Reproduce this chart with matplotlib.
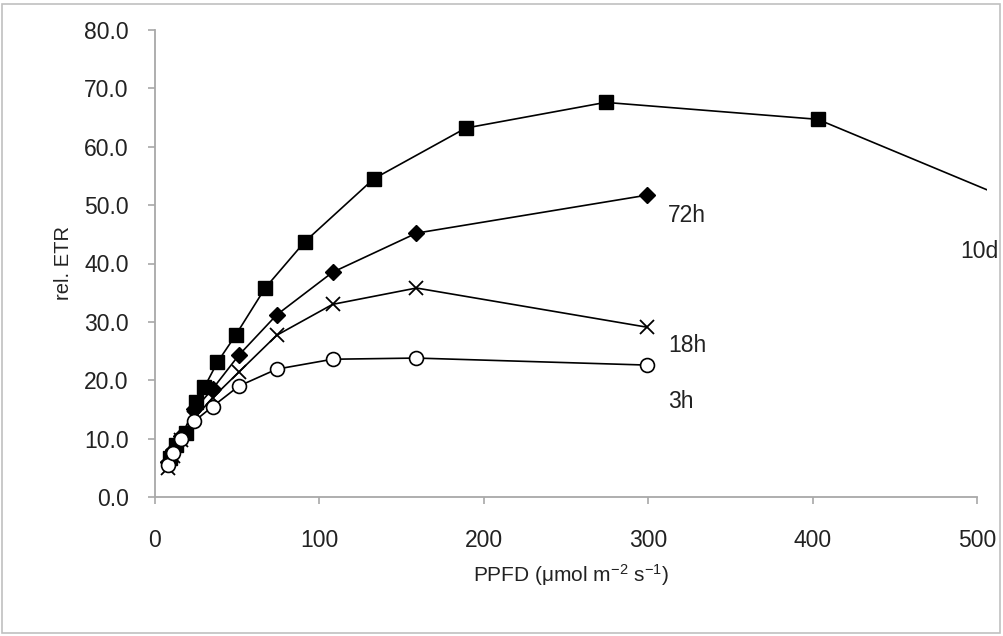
import matplotlib
matplotlib.use("Agg")
import matplotlib.pyplot as plt
from matplotlib.patches import Rectangle

plt.rcParams['font.family'] = ['Liberation Sans', 'DejaVu Sans']
plt.rcParams['mathtext.default'] = 'regular'

# Data
ppfd_10d = [9, 13, 19, 25, 30, 38, 49, 67, 91, 133, 189, 274, 403, 600]
etr_10d = [6.7, 8.9, 11.0, 16.3, 18.8, 23.1, 27.7, 35.8, 43.7, 54.5, 63.2, 67.6, 64.7, 41.6]

ppfd_short = [8, 11, 16, 24, 35, 51, 74, 108, 159, 299]
etr_72h = [6.0, 8.0, 10.5, 15.0, 18.5, 24.3, 31.2, 38.5, 45.2, 51.7]
etr_18h = [5.0, 7.0, 9.8, 13.5, 17.0, 21.4, 27.7, 33.0, 35.8, 29.1]
etr_3h = [5.5, 7.5, 10.0, 13.0, 15.5, 19.0, 21.9, 23.6, 23.8, 22.6]

series_labels = ["10d", "72h", "18h", "3h"]
label_pos = [(513, 42.0), (312, 48.3), (312, 25.9), (312, 16.3)]

x_ticks = [0, 100, 200, 300, 400, 500]
y_ticks = [0, 10, 20, 30, 40, 50, 60, 70, 80]

fig = plt.figure(figsize=(10.04, 6.36), dpi=100)
ax = fig.add_axes([155/1004, 1-497/636, (987-155)/1004, (497-30)/636])

ax.plot(ppfd_10d, etr_10d, color='black', lw=1.2, marker='s', ms=10,
        mfc='black', mec='black')
ax.plot(ppfd_short, etr_72h, color='black', lw=1.2, marker='D', ms=8.5,
        mfc='black', mec='black')
ax.plot(ppfd_short, etr_18h, color='black', lw=1.2, marker='x', ms=10.5,
        mew=1.3, mec='black')
ax.plot(ppfd_short, etr_3h, color='black', lw=1.2, marker='o', ms=10,
        mfc='white', mec='black', mew=1.2)

for lab, (lx, ly) in zip(series_labels, label_pos):
    ax.text(lx, ly, lab, fontsize=16.5, ha='left' if lab != "10d" else 'right',
            va='center', color='#222222', clip_on=False)

ax.set_xlim(0, 506)
ax.set_ylim(0, 80)
ax.set_xticks(x_ticks)
ax.set_yticks(y_ticks)
ax.set_yticklabels([f"{v:.1f}" for v in y_ticks])
ax.set_xticklabels([str(v) for v in x_ticks])

for s in ['top', 'right']:
    ax.spines[s].set_visible(False)
for s in ['left', 'bottom']:
    ax.spines[s].set_color('#a8a8a8')
    ax.spines[s].set_linewidth(1.3)
ax.spines['bottom'].set_bounds(0, 500)
ax.tick_params(axis='both', direction='out', length=5, color='#a8a8a8',
               labelsize=16.5, labelcolor='#222222', width=1.2)
ax.tick_params(axis='x', pad=18)
ax.tick_params(axis='y', pad=14)

ax.set_xlabel("PPFD (μmol m$^{-2}$ s$^{-1}$)", fontsize=15, color='#222222', labelpad=7)
ax.set_ylabel("rel. ETR", fontsize=14.5, color='#222222', labelpad=8)

fig.patches.append(Rectangle((2/1004, 3/636), 998/1004, 629/636, transform=fig.transFigure,
                             fill=False, edgecolor='#c0c0c0', lw=1.2))

fig.savefig("out.png", dpi=100)
